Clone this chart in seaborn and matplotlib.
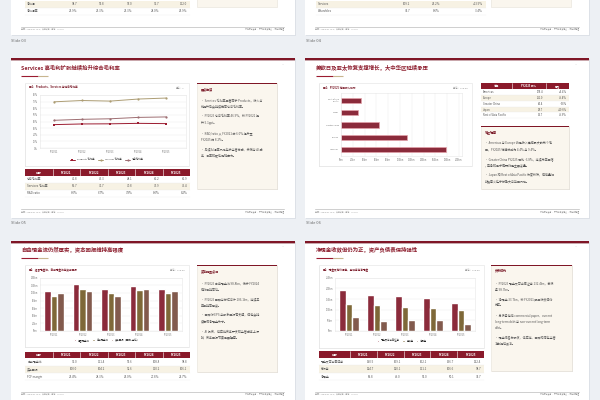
import numpy as np
import pandas as pd
import matplotlib
matplotlib.use("Agg")
import matplotlib.pyplot as plt
from matplotlib.patches import Rectangle
from matplotlib.ticker import FuncFormatter
import seaborn as sns

sns.set_theme(style="white")
plt.rcParams['font.family'] = ['Noto Sans CJK SC', 'DejaVu Sans']

W, H = 600, 400
RED = "#9b1b30"
OLIVE = "#8a6d2c"
BROWN = "#8b5544"
BG = "#edf0f4"
CREAM = "#faf6ee"
ROWTINT = "#f7f2e4"
GREY = "#8a8a8a"

# ---- data ----
years = ["FY2021", "FY2022", "FY2023", "FY2024", "FY2025"]

# slide 03 (bottom of table only)
net_income = ["94.7", "99.8", "97.0", "93.7", "112.0"]
net_margin = ["25.9%", "25.3%", "25.3%", "24.0%", "26.9%"]

# slide 04 (bottom of table only)
seg_rows = [["Services", "109.2", "26.2%", "+13.5%"],
            ["Wearables", "35.7", "8.6%", "-3.4%"]]

# slide 05
products_gm = [35.3, 36.3, 36.5, 37.2, 36.8]
services_gm = [69.7, 71.7, 70.8, 73.9, 75.4]
total_gm = [41.8, 43.3, 44.1, 46.2, 46.9]
rd_ratio = ["6.0%", "6.7%", "7.8%", "8.0%", "8.2%"]

# slide 06
regions = ["Rest of Asia\nPacific", "Japan", "Greater China", "Europe", "Americas"]
region_rev = [33.7, 28.7, 64.4, 111.0, 178.4]
region_table = ["Americas", "Europe", "Greater China", "Japan", "Rest of Asia Pacific"]
region_table_rev = ["178.4", "111.0", "64.4", "28.7", "33.7"]
region_yoy = ["+4.4%", "+9.4%", "-3.8%", "+10.6%", "+9.9%"]

# slide 07
ocf = [104.0, 122.2, 110.5, 118.3, 111.5]
fcf = [93.0, 111.4, 99.6, 108.8, 98.8]
cap_return = [100.0, 104.2, 92.6, 110.2, 106.1]
fcf_margin = ["25.4%", "28.3%", "26.0%", "27.8%", "23.7%"]

# slide 08
cash = [190.5, 169.1, 162.1, 156.7, 132.4]
debt = [124.7, 120.1, 111.1, 106.6, 98.7]
net_cash = [65.8, 49.0, 51.0, 50.1, 33.7]

fig = plt.figure(figsize=(6, 4), dpi=100)
fig.patch.set_facecolor(BG)
bg = fig.add_axes([0, 0, 1, 1])
bg.set_xlim(0, W)
bg.set_ylim(H, 0)
bg.axis("off")


def px_axes(x, y, w, h):
    return fig.add_axes([x / W, 1 - (y + h) / H, w / W, h / H])


def txt(x, y, s, size=2.2, color="#444444", **kw):
    kw.setdefault("va", "center")
    bg.text(x, y, s, fontsize=size, color=color, **kw)


def slide_card(x, y, w, h, bar=True):
    bg.add_patch(Rectangle((x + 0.5, y + 0.8), w, h, color="#dde1e7", lw=0))
    bg.add_patch(Rectangle((x, y), w, h, color="white", lw=0))
    if bar:
        bg.add_patch(Rectangle((x, y), w, 2.4, color="#7f1626", lw=0))
        bg.add_patch(Rectangle((x, y + 2.4), w, 0.8, color="#c9a7ac", lw=0))


def slide_title(x, y, s, icon_x):
    txt(x, y, s, size=3.9, color="#8c1c2c", weight="bold")
    bg.plot([x, x + 17], [y + 8, y + 8], color=RED, lw=0.8, solid_capstyle="butt")
    bg.plot([x + 17, x + 27], [y + 8, y + 8], color="#c8b58f", lw=0.8, solid_capstyle="butt")
    txt(icon_x, y - 2, "ˆ", size=3, color="#aaaaaa", ha="center")


def chart_card(x, y, w, h, title, unit):
    bg.add_patch(Rectangle((x + 0.4, y + 0.7), w, h, color="#e6e6e6", lw=0))
    bg.add_patch(Rectangle((x, y), w, h, facecolor="white", edgecolor="#e2e2e2", lw=0.4))
    txt(x + 4, y + 4.3, title, size=1.9, color="#7a1a28", weight="bold")
    txt(x + w - 4, y + 4.3, unit, size=1.6, color=GREY, ha="right")


def footer(x0, x1, y):
    bg.plot([x0, x1], [y, y], color="#cfcfcf", lw=0.7)
    txt(x0, y + 2.2, "来源：Apple Inc. 10-K、公司公告；单位：USD bn", size=1.4, color="#9a9a9a")
    txt(x1, y + 2.2, "仅供研究参考 · 不构成投资建议 · 研究部整理", size=1.4, color="#9a9a9a", ha="right")


def table(x0, y0, col_w, header, rows, head_h=7, row_h=7, shade=(1,), pad=3, size=2.1):
    edges = np.cumsum([x0] + list(col_w))
    total = edges[-1] - x0
    y = y0
    if header is not None:
        bg.add_patch(Rectangle((x0, y0), total, head_h, color="#8a1a2b", lw=0))
        for i, hd in enumerate(header):
            txt((edges[i] + edges[i + 1]) / 2, y0 + head_h / 2, hd, size=size, color="white",
                ha="center", weight="bold")
            if i > 0:
                bg.plot([edges[i]] * 2, [y0, y0 + head_h], color="white", lw=0.4)
        y = y0 + head_h
    for r, row in enumerate(rows):
        ry = y + r * row_h
        if r in shade:
            bg.add_patch(Rectangle((x0, ry), total, row_h, color=ROWTINT, lw=0))
        bg.plot([x0, x0 + total], [ry + row_h] * 2, color="#ececec", lw=0.3)
        for i, cell in enumerate(row):
            if i == 0:
                txt(x0 + 2, ry + row_h / 2, cell, size=size, color="#555555")
            else:
                txt(edges[i + 1] - pad, ry + row_h / 2, cell, size=size, color="#555555", ha="right")


def note_panel(x, y, w, h, title, lines, line_y):
    bg.add_patch(Rectangle((x + 0.6, y + 0.9), w, h, color="#dcdcdc", lw=0))
    bg.add_patch(Rectangle((x, y), w, h, facecolor=CREAM, edgecolor="#e6e1d8", lw=0.4))
    bg.add_patch(Rectangle((x, y), w, 1.3, color="#7f1626", lw=0))
    txt(x + 4, y + 6, title, size=2.2, color="#7a1a28", weight="bold")
    for ly, s in zip(line_y, lines):
        txt(x + 4, ly, s, size=2.15, color="#555555")


def style_axes(ax, grid_axis="y"):
    for s in ax.spines.values():
        s.set_color("#e6e6e6")
        s.set_linewidth(0.4)
    ax.tick_params(labelsize=1.8, colors="#777777", length=0, pad=1.5)
    ax.set_xlabel("")
    ax.set_ylabel("")
    ax.grid(axis=grid_axis, color="#eeeeee", linewidth=0.35)
    ax.set_axisbelow(True)
    ax.patch.set_alpha(0)


# ================= top strip: slide 03 / 04 bottoms =================
slide_card(11, -6, 284, 41, bar=False)
table(25, 0.5, [27.7, 27.5, 27.5, 27.5, 27.5, 27.5], None,
      [["净利润"] + net_income, ["净利润率"] + net_margin], row_h=7, shade=(0,))
bg.add_patch(Rectangle((197, -6), 80, 13, facecolor=CREAM, edgecolor="#e6e1d8", lw=0.4))
footer(21, 284, 26.7)
txt(11, 41, "Slide 03", size=2.9, color="#666666")

slide_card(305, -6, 284, 41, bar=False)
table(316, 0.5, [54, 43, 30, 43], None, seg_rows, row_h=7, shade=(0,))
bg.add_patch(Rectangle((491, -6), 80, 13, facecolor=CREAM, edgecolor="#e6e1d8", lw=0.4))
footer(315, 579, 26.7)
txt(306, 41, "Slide 04", size=2.9, color="#666666")

# ================= slide 05 =================
slide_card(11, 58, 284, 160)
slide_title(21, 68, "Services 高毛利扩张继续抬升综合毛利率", 283)
chart_card(25, 83, 164, 83, "图1：Products、Services 与综合毛利率", "单位：%")

gm = pd.DataFrame({
    "year": years * 3,
    "value": products_gm + services_gm + total_gm,
    "series": ["Products 毛利率"] * 5 + ["Services 毛利率"] * 5 + ["综合毛利率"] * 5,
})
ax1 = px_axes(40, 95, 146, 53)
sns.lineplot(data=gm, x="year", y="value", hue="series", style="series",
             palette={"Products 毛利率": RED, "Services 毛利率": "#ad9d74", "综合毛利率": "#9e6e72"},
             markers=["s", "o", "o"], dashes=False, markersize=1.6, linewidth=0.7,
             markeredgewidth=0, sort=False, ax=ax1)
ax1.set_ylim(0, 80)
ax1.set_xlim(-0.5, 4.7)
ax1.yaxis.set_major_formatter(FuncFormatter(lambda v, _: f"{v:.0f}%"))
style_axes(ax1)
h1, l1 = ax1.get_legend_handles_labels()
ax1.legend(h1, l1, loc="center", bbox_to_anchor=(107 / W, 1 - 159 / H), bbox_transform=fig.transFigure,
           ncol=3, fontsize=1.7, frameon=False, handlelength=2.2, columnspacing=1.5)

table(25, 169, [27.7, 27.5, 27.5, 27.5, 27.5, 27.5], ["指标"] + years,
      [["综合毛利率"] + [f"{v:.1f}" for v in total_gm],
       ["Services 毛利率"] + [f"{v:.1f}" for v in services_gm],
       ["R&D ratio"] + rd_ratio], head_h=7, row_h=6.9)

note_panel(197, 83, 80, 106, "要点解读",
           ["· Services 毛利率显著高于 Products，收入占",
            "比提升后会持续推高综合毛利率。",
            "· FY2025 综合毛利率 46.9%，较 FY2021 提",
            "升 5.1ppt。",
            "· R&D/ratio 从 FY2021 的 6.0% 提升至",
            "FY2025 的 8.2%。",
            "· 后续利润率风险在于监管分成、关税与 AI 成",
            "本、汇率和硬件促销压力。"],
           [100, 106.7, 116, 123, 133, 140, 149.3, 156.3])
footer(21, 284, 209.3)
txt(11, 223, "Slide 05", size=2.9, color="#666666")

# ================= slide 06 =================
slide_card(305, 58, 284, 160)
slide_title(316, 68, "美欧日及亚太恢复支撑增长，大中华区延续承压", 576)
chart_card(319, 83, 153, 83, "图1：FY2025 地区收入结构", "单位：USD bn")

ax2 = px_axes(341, 93, 121, 63)
sns.barplot(x=region_rev, y=regions, orient="h", color=RED, width=0.43,
            edgecolor="#e3a2aa", linewidth=0.5, ax=ax2)
ax2.set_xlim(0, 205)
ax2.set_xticks(np.arange(0, 201, 20))
ax2.set_ylim(4.5, -0.6)
ax2.xaxis.set_major_formatter(FuncFormatter(lambda v, _: f"{v:.0f}bn"))
style_axes(ax2, grid_axis="x")
ax2.tick_params(axis="y", labelsize=1.5)

table(481, 83, [31, 34, 23], ["地区", "FY2025 收入", "同比"],
      [[a, b, c] for a, b, c in zip(region_table, region_table_rev, region_yoy)],
      head_h=6.3, row_h=5.8, shade=(1, 3), pad=2.5, size=1.9)

note_panel(481, 126, 88, 63, "地区观察",
           ["· Americas 与 Europe 仍是收入规模最大的两个地",
            "区，FY2025 增速分别为 4.4% 与 9.4%。",
            "· Greater China FY2025 同比 -3.8%，连续两年回落",
            "，竞争和需求偏弱仍是主要变量。",
            "· Japan 和 Rest of Asia Pacific 恢复较快，但体量相",
            "战略意义在于分散大中华区风险。"],
           [143.3, 149.5, 159, 165.2, 174.5, 181])
footer(315, 579, 209.3)
txt(306, 223, "Slide 06", size=2.9, color="#666666")

# ================= slide 07 =================
slide_card(11, 241, 284, 175)
slide_title(21, 250, "自由现金流仍然厚实，资本回报维持高强度", 283)
chart_card(25, 265, 164, 82, "图1：经营现金流、自由现金流与资本回报", "单位：USD bn")

cf = pd.DataFrame({
    "year": years * 3,
    "value": ocf + fcf + cap_return,
    "series": ["经营现金流"] * 5 + ["自由现金流"] * 5 + ["资本回报（回购+分红）"] * 5,
})
ax3 = px_axes(40, 277.7, 142, 53.3)
sns.barplot(data=cf, x="year", y="value", hue="series", palette=[RED, OLIVE, BROWN],
            width=0.69, ax=ax3)
ax3.set_ylim(0, 140)
ax3.set_yticks(np.arange(0, 141, 20))
ax3.yaxis.set_major_formatter(FuncFormatter(lambda v, _: f"{v:.0f}bn"))
style_axes(ax3)
h3, l3 = ax3.get_legend_handles_labels()
ax3.legend(h3, l3, loc="center", bbox_to_anchor=(107 / W, 1 - 340 / H), bbox_transform=fig.transFigure,
           ncol=3, fontsize=1.7, frameon=False, handlelength=1.0, handleheight=0.8, columnspacing=1.0)

table(25, 351.7, [27.7, 27.5, 27.5, 27.5, 27.5, 27.5], ["指标"] + years,
      [["自由现金流"] + [f"{v:.1f}" for v in fcf],
       ["资本回报"] + [f"{v:.1f}" for v in cap_return],
       ["FCF margin"] + fcf_margin], head_h=6.7, row_h=7.3)

note_panel(197, 265, 80, 107, "资本配置点评",
           ["· FY2025 自由现金流 98.8bn，低于 FY2024",
            "但仍保持高位。",
            "· FY2025 回购与分红合计 106.1bn，连续五",
            "年保持高强度。",
            "· 回购对 EPS 与股东回报有支撑，但也会持",
            "续压缩净现金头寸。",
            "· AI 投资、供应链资本开支和监管成本上行",
            "时，资本回报节奏需要观察。"],
           [283.3, 289.5, 299.3, 305.3, 315, 321.3, 331, 337.3])
footer(21, 284, 391.7)

# ================= slide 08 =================
slide_card(305, 241, 284, 175)
slide_title(316, 250, "净现金收敛但仍为正，资产负债表保持弹性", 576)
chart_card(319, 265, 165, 83, "图1：现金及有价证券、总债务与净现金", "单位：USD bn")

bs = pd.DataFrame({
    "year": years * 3,
    "value": cash + debt + net_cash,
    "series": ["现金及可出售证券"] * 5 + ["总债务"] * 5 + ["净现金"] * 5,
})
ax4 = px_axes(335, 277.7, 140, 53.3)
sns.barplot(data=bs, x="year", y="value", hue="series", palette=[RED, OLIVE, BROWN],
            width=0.68, ax=ax4)
ax4.set_ylim(0, 250)
ax4.set_yticks(np.arange(0, 251, 50))
ax4.yaxis.set_major_formatter(FuncFormatter(lambda v, _: f"{v:.0f}bn"))
style_axes(ax4)
h4, l4 = ax4.get_legend_handles_labels()
ax4.legend(h4, l4, loc="center", bbox_to_anchor=(402 / W, 1 - 340.7 / H), bbox_transform=fig.transFigure,
           ncol=3, fontsize=1.7, frameon=False, handlelength=1.0, handleheight=0.8, columnspacing=1.0)

table(319, 351, [31, 26.8, 26.8, 26.8, 26.8, 26.8], ["指标"] + years,
      [["现金及可出售证券"] + [f"{v:.1f}" for v in cash],
       ["总债务"] + [f"{v:.1f}" for v in debt],
       ["净现金"] + [f"{v:.1f}" for v in net_cash]], head_h=7, row_h=7.4)

note_panel(491, 265, 81, 106, "负债结构",
           ["· FY2025 现金及可出售证券 132.4bn，总债",
            "务 98.7bn。",
            "· 净现金 33.7bn，较 FY2021 明显收敛但仍",
            "为正。",
            "· 总债务包括 commercial paper、current",
            "long-term debt 与 non-current long-term",
            "debt。",
            "· 现金储备为研发、供应链、回购和潜在监管",
            "冲击提供缓冲。"],
           [283.3, 289.5, 299.3, 305.3, 315.7, 321.9, 328.3, 337.3, 343.7])
footer(315, 579, 391.7)

fig.savefig("out.png", dpi=100, facecolor=fig.get_facecolor())
